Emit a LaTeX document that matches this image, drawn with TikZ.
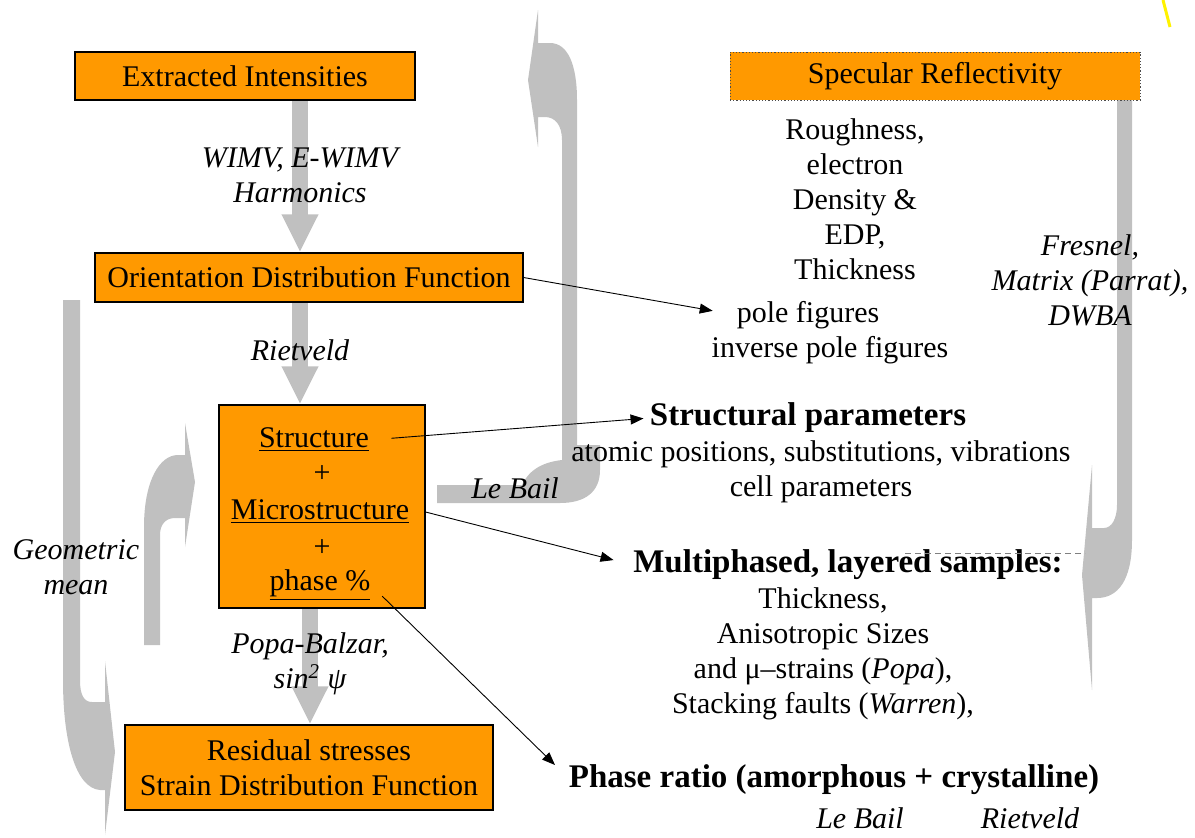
\documentclass[tikz,border=0pt]{standalone}
\usepackage{fontspec}
\setmainfont{Liberation Serif}
\usetikzlibrary{arrows.meta,positioning,backgrounds}
\definecolor{boxorange}{RGB}{255,153,0}
\definecolor{flowgray}{RGB}{192,192,192}

\begin{document}
\begin{tikzpicture}[
  x=0.5pt, y=-0.5pt,
  every node/.style={font=\fontsize{15}{17.5}\selectfont, inner sep=0pt, align=center},
  box/.style={draw, fill=boxorange, line width=0.6pt},
  method/.style={font=\fontsize{15}{17.5}\selectfont\itshape},
  head/.style={font=\fontsize{16.5}{17.5}\selectfont\bfseries},
  conn/.style={-{Triangle[length=6.5pt,width=5pt]}, line width=0.45pt},
  flow/.style={flowgray, line width=8pt, -{Triangle[length=19pt,width=17pt]}}
]
\useasboundingbox (0,0) rectangle (1195,837);

% boxes
\node[box, minimum width=170pt, minimum height=24pt] (ei) at (245,76) {Extracted Intensities};
\node[box, minimum width=214pt, minimum height=24.5pt] (odf) at (309,277.5) {Orientation Distribution Function};
\node[box, minimum width=103pt, minimum height=101.5pt] (sbox) at (322,506.5) {};
\node[box, minimum width=184pt, minimum height=42.5pt] (res) at (309,767.5) {Residual stresses\\Strain Distribution Function};
\node[box, draw=black!70, densely dotted, line width=0.4pt, minimum width=205pt, minimum height=24pt] (spec) at (935,76) {Specular Reflectivity};

% inside the structure box
\node (w1) at (314,440) {\underline{Structure}};
\node (p1) at (322,474) {+};
\node (w2) at (320,512) {\underline{Microstructure}};
\node (p2) at (322,548) {+};
\node (w3) at (320,585) {\underline{phase \%}};

% methods
\node[method] (wimv) at (300,175) {WIMV, E-WIMV\\Harmonics};
\node[method] (riet) at (300,350) {Rietveld};
\node[method] (popa) at (310,664) {Popa-Balzar,\\sin\textsuperscript{2} ψ};
\node[method] (geo) at (76,567) {Geometric\\mean};
\node[method] (lebail) at (515,488) {Le Bail};
\node[method] (fres) at (1090,280) {Fresnel,\\Matrix (Parrat),\\DWBA};

% results
\node (rough) at (855,199) {Roughness,\\electron\\Density \&\\EDP,\\Thickness};
\node (pole1) at (808,315) {pole figures};
\node (pole2) at (830,350) {inverse pole figures};
\node[head] (sp) at (808,418) {Structural parameters};
\node (spd) at (821,472) {atomic positions, substitutions, vibrations\\cell parameters};
\node[head] (mp) at (848,565) {Multiphased, layered samples:};
\node (mpd) at (823,654) {Thickness,\\Anisotropic Sizes\\and μ–strains (\textit{Popa}),\\Stacking faults (\textit{Warren}),};
\node[head] (pr) at (834,780) {Phase ratio (amorphous + crystalline)};
\node[method] (lb2) at (860,818) {Le Bail};
\node[method] (rv2) at (1030,818) {Rietveld};
\coordinate (prtip) at (555,765);

\draw[conn, shorten >=12pt] (odf.east) -- (pole1.west);
\draw[conn, shorten <=11pt, shorten >=3pt] (w1.east) -- (sp.west);
\draw[conn, shorten >=10pt] (sbox.east |- w2) -- (mp.west);
\draw[conn, shorten <=8pt] (w3.east) -- (prtip);

\draw[gray, densely dashed, line width=0.4pt] (905,553) -- (1085,553);
\draw[yellow, line width=1.5pt] (1163,0) -- (1170,27);

\begin{scope}[on background layer]
  \draw[flow] (ei.south -| wimv) -- (odf.north -| wimv);
  \draw[flow] (odf.south -| riet) -- (sbox.north -| riet);
  \draw[flow] (sbox.south -| popa) -- (res.north -| popa);
  % curved arrows
  \fill[flowgray] (437,485) -- (522,485) .. controls (530,468) and (545,462) .. (562,460)
    -- (562,140) .. controls (562,125) and (555,117) .. (545,117) -- (538,117) -- (538,147)
    -- (528,80) -- (538,10) -- (538,43) -- (550,43) .. controls (568,43) and (577,65) .. (577,100)
    -- (577,445) -- (600,445) -- (600,470) .. controls (600,492) and (585,503) .. (560,503)
    -- (437,503) -- cycle;
  \fill[flowgray] (63,300) -- (63,680) .. controls (63,740) and (75,788) .. (100,790)
    -- (105,790) -- (105,835) -- (115,752) -- (105,661) -- (105,702) -- (92,702)
    .. controls (84,702) and (80,695) .. (80,680) -- (80,300) -- cycle;
  \fill[flowgray] (144,645) -- (144,527) .. controls (144,480) and (160,455) .. (178,455)
    -- (185,455) -- (185,423) -- (195,482) -- (185,547) -- (185,518) -- (175,518)
    .. controls (166,518) and (160,524) .. (160,535) -- (160,645) -- cycle;
  \fill[flowgray] (1132,100) -- (1132,540) .. controls (1132,580) and (1118,598) .. (1097,598)
    -- (1092,598) -- (1092,690) -- (1082,575) -- (1092,465) -- (1092,528) -- (1104,528)
    .. controls (1112,528) and (1117,518) .. (1117,505) -- (1117,100) -- cycle;
\end{scope}
\end{tikzpicture}
\end{document}
